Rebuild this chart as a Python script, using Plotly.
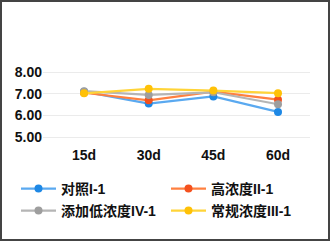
import plotly.graph_objects as go

categories = ["15d", "30d", "45d", "60d"]
series_names = ["对照I-1", "高浓度II-1", "添加低浓度IV-1", "常规浓度III-1"]
control_I1 = [7.10, 6.55, 6.88, 6.17]
high_II1 = [7.05, 6.70, 7.10, 6.73]
low_IV1 = [7.12, 6.95, 7.07, 6.52]
normal_III1 = [7.02, 7.23, 7.15, 7.03]
y_ticks = [5, 6, 7, 8]
y_tick_labels = ["5.00", "6.00", "7.00", "8.00"]

values = [control_I1, high_II1, low_IV1, normal_III1]
marker_colors = ["#1e88e5", "#f4511e", "#9e9e9e", "#ffc107"]
line_colors = ["#5aa9f0", "#ff8040", "#b5b5b5", "#ffd438"]

W, H = 330, 241
# plot area in pixels
px0, px1, py0, py1 = 43, 310, 62, 145

# legend positions (pixel left, pixel center y) for each entry
leg_pos = [(16, 189), (166, 189), (16, 211), (166, 211)]
legend_ids = ["legend", "legend2", "legend3", "legend4"]

fig = go.Figure()
for i, (name, vals, mc, lc) in enumerate(zip(series_names, values, marker_colors, line_colors)):
    fig.add_trace(go.Scatter(
        x=categories, y=vals, name=name, mode="lines+markers",
        line=dict(color=lc, width=2.2),
        marker=dict(color=mc, size=8),
        legend=legend_ids[i],
    ))

legend_font = dict(family="Liberation Sans, Noto Sans CJK SC, sans-serif", size=14, color="#111", weight="bold")
layout_legends = {}
for lid, (lx, ly) in zip(legend_ids, leg_pos):
    layout_legends[lid] = dict(
        x=lx / W, xanchor="left", y=1 - ly / H, yanchor="middle",
        font=legend_font, itemwidth=35, bgcolor="rgba(0,0,0,0)",
        borderwidth=0,
    )

fig.update_layout(
    width=W, height=H,
    margin=dict(l=0, r=0, t=0, b=0, autoexpand=False),
    paper_bgcolor="white", plot_bgcolor="white",
    font=dict(family="Liberation Sans, Arial, sans-serif", color="#111", size=14),
    showlegend=True,
    xaxis=dict(
        domain=[px0 / W, px1 / W], automargin=False,
        range=[-0.635, 3.495], showgrid=False, showline=False, zeroline=False,
        ticks="", tickfont=dict(size=14, weight="bold"),
    ),
    yaxis=dict(
        domain=[1 - py1 / H, 1 - py0 / H], automargin=False,
        range=[4.65, 8.46], tickvals=y_ticks, ticktext=y_tick_labels,
        showgrid=True, gridcolor="#ebebeb", gridwidth=1, zeroline=False,
        showline=False, ticks="", tickfont=dict(size=14, weight="bold"),
    ),
    shapes=[dict(
        type="rect", xref="paper", yref="paper",
        x0=1 / W, x1=(W - 1) / W, y0=1 / H, y1=(H - 1) / H,
        line=dict(color="#444", width=2), fillcolor="rgba(0,0,0,0)",
    )],
    **layout_legends,
)
fig.write_html(
    "out.html",
    config={"displayModeBar": False},
    post_script="document.body.style.margin='0';document.body.style.overflow='hidden';",
)
